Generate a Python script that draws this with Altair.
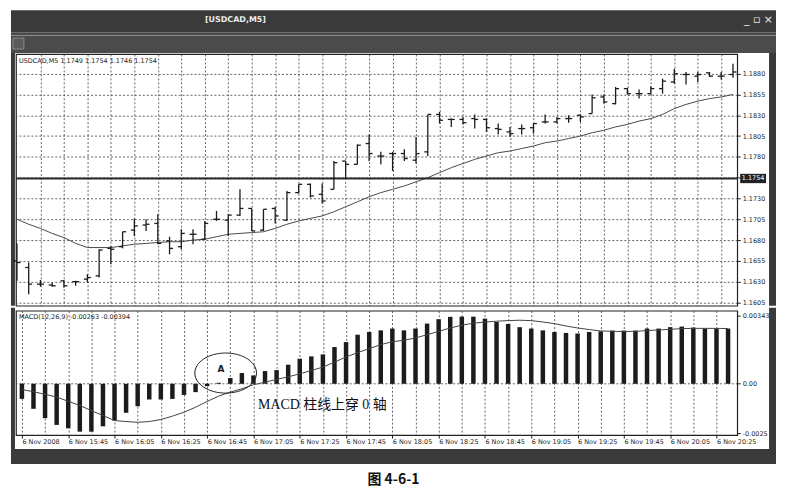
import json
import altair as alt
import pandas as pd

# ---------------- data ----------------
time_labels = ["6 Nov 2008", "6 Nov 15:45", "6 Nov 16:05", "6 Nov 16:25", "6 Nov 16:45",
               "6 Nov 17:05", "6 Nov 17:25", "6 Nov 17:45", "6 Nov 18:05", "6 Nov 18:25",
               "6 Nov 18:45", "6 Nov 19:05", "6 Nov 19:25", "6 Nov 19:45", "6 Nov 20:05",
               "6 Nov 20:25"]

opens = [1.1655, 1.1647, 1.1627, 1.1626, 1.1631, 1.1630, 1.1633, 1.1637, 1.1670, 1.1672,
         1.1692, 1.1698, 1.1700, 1.1679, 1.1672, 1.1687, 1.1681, 1.1705, 1.1704, 1.1710,
         1.1718, 1.1692, 1.1718, 1.1704, 1.1737, 1.1747, 1.1735, 1.1741, 1.1775, 1.1771,
         1.1796, 1.1781, 1.1784, 1.1784, 1.1776, 1.1786, 1.1831, 1.1825, 1.1825, 1.1826,
         1.1825, 1.1814, 1.1810, 1.1814, 1.1815, 1.1822, 1.1822, 1.1826, 1.1830, 1.1832,
         1.1852, 1.1844, 1.1862, 1.1856, 1.1856, 1.1862, 1.1870, 1.1879, 1.1877, 1.1881,
         1.1877, 1.1879]
highs = [1.1676, 1.1653, 1.1632, 1.1629, 1.1632, 1.1631, 1.1639, 1.1669, 1.1673, 1.1690,
         1.1706, 1.1705, 1.1711, 1.1684, 1.1693, 1.1693, 1.1703, 1.1715, 1.1711, 1.1741,
         1.1718, 1.1717, 1.1720, 1.1739, 1.1747, 1.1748, 1.1748, 1.1775, 1.1775, 1.1795,
         1.1807, 1.1786, 1.1786, 1.1789, 1.1804, 1.1831, 1.1834, 1.1826, 1.1828, 1.1831,
         1.1826, 1.1820, 1.1816, 1.1819, 1.1820, 1.1831, 1.1828, 1.1830, 1.1831, 1.1855,
         1.1855, 1.1864, 1.1863, 1.1861, 1.1865, 1.1874, 1.1886, 1.1882, 1.1882, 1.1882,
         1.1882, 1.1892]
lows = [1.1631, 1.1615, 1.1624, 1.1624, 1.1623, 1.1625, 1.1629, 1.1635, 1.1651, 1.1670,
        1.1685, 1.1691, 1.1675, 1.1663, 1.1669, 1.1675, 1.1680, 1.1703, 1.1685, 1.1709,
        1.1691, 1.1691, 1.1700, 1.1703, 1.1736, 1.1731, 1.1724, 1.1741, 1.1754, 1.1771,
        1.1775, 1.1771, 1.1763, 1.1775, 1.1772, 1.1781, 1.1820, 1.1816, 1.1819, 1.1814,
        1.1810, 1.1807, 1.1804, 1.1807, 1.1808, 1.1820, 1.1820, 1.1821, 1.1822, 1.1832,
        1.1844, 1.1843, 1.1855, 1.1850, 1.1855, 1.1856, 1.1868, 1.1867, 1.1870, 1.1876,
        1.1873, 1.1875]
closes = [1.1653, 1.1627, 1.1627, 1.1625, 1.1625, 1.1630, 1.1635, 1.1668, 1.1669, 1.1690,
          1.1697, 1.1699, 1.1676, 1.1670, 1.1688, 1.1687, 1.1700, 1.1705, 1.1710, 1.1718,
          1.1691, 1.1717, 1.1709, 1.1737, 1.1747, 1.1733, 1.1727, 1.1773, 1.1771, 1.1794,
          1.1784, 1.1781, 1.1784, 1.1778, 1.1784, 1.1831, 1.1824, 1.1825, 1.1821, 1.1825,
          1.1815, 1.1813, 1.1808, 1.1814, 1.1820, 1.1822, 1.1826, 1.1826, 1.1828, 1.1851,
          1.1846, 1.1862, 1.1856, 1.1856, 1.1862, 1.1871, 1.1880, 1.1879, 1.1879, 1.1877,
          1.1877, 1.1882]
moving_avg = [1.1705, 1.1699, 1.1694, 1.1688, 1.1683, 1.1676, 1.1671, 1.1671, 1.1671, 1.1673,
              1.1675, 1.1676, 1.1677, 1.1678, 1.1678, 1.1680, 1.1681, 1.1684, 1.1687, 1.1688,
              1.1689, 1.1690, 1.1694, 1.1699, 1.1703, 1.1706, 1.1709, 1.1714, 1.1720, 1.1726,
              1.1732, 1.1737, 1.1741, 1.1745, 1.1750, 1.1755, 1.1761, 1.1767, 1.1772, 1.1777,
              1.1781, 1.1785, 1.1787, 1.1790, 1.1793, 1.1797, 1.1799, 1.1802, 1.1805, 1.1809,
              1.1812, 1.1816, 1.1819, 1.1823, 1.1826, 1.1831, 1.1838, 1.1843, 1.1847, 1.1850,
              1.1852, 1.1855]
macd_hist = [-0.00076, -0.00126, -0.00173, -0.00207, -0.00224, -0.00241, -0.00241, -0.00214, -0.00185, -0.00146,
             -0.00113, -0.00079, -0.00079, -0.00076, -0.00056, -0.00042, -0.00012, 0.00005, 0.00029, 0.00054,
             0.00042, 0.00064, 0.00069, 0.00096, 0.00126, 0.00138, 0.00148, 0.00185, 0.00210, 0.00247,
             0.00261, 0.00269, 0.00278, 0.00269, 0.00278, 0.00303, 0.00325, 0.00337, 0.00338, 0.00338,
             0.00328, 0.00311, 0.00301, 0.00285, 0.00278, 0.00269, 0.00261, 0.00256, 0.00253, 0.00261,
             0.00264, 0.00268, 0.00268, 0.00268, 0.00278, 0.00278, 0.00285, 0.00288, 0.00283, 0.00278,
             0.00278, 0.00278]
macd_signal = [-0.00029, -0.00040, -0.00053, -0.00067, -0.00088, -0.00109, -0.00135, -0.00160, -0.00185, -0.00190,
               -0.00194, -0.00190, -0.00180, -0.00163, -0.00143, -0.00118, -0.00089, -0.00062, -0.00042, -0.00025,
               -0.00005, 0.00008, 0.00022, 0.00035, 0.00050, 0.00067, 0.00084, 0.00109, 0.00135, 0.00157,
               0.00177, 0.00197, 0.00212, 0.00219, 0.00231, 0.00247, 0.00264, 0.00281, 0.00295, 0.00305,
               0.00311, 0.00315, 0.00318, 0.00320, 0.00318, 0.00311, 0.00303, 0.00291, 0.00281, 0.00273,
               0.00266, 0.00264, 0.00263, 0.00264, 0.00268, 0.00271, 0.00274, 0.00278, 0.00279, 0.00279,
               0.00279, 0.00278]

price_ticks = [1.1605, 1.1630, 1.1655, 1.1680, 1.1705, 1.1730, 1.1755,
               1.1780, 1.1805, 1.1830, 1.1855, 1.1880]
current_price = 1.1754
header_quote = [1.1749, 1.1754, 1.1746, 1.1754]
macd_ticks = [-0.0025, 0.0, 0.00343]
macd_tick_labels = ["-0.0025", "0.00", "0.00343"]
macd_header = "MACD(12,26,9) -0.00263 -0.00394"
annotation = "MACD 柱线上穿 0 轴"
caption = "图 4-6-1"

# ---------------- chart ----------------
n = len(closes)
bars = pd.DataFrame({"i": list(range(n)), "o": opens, "h": highs, "l": lows, "c": closes,
                     "ma": moving_avg, "hist": macd_hist, "sig": macd_signal})

W, H1, H2 = 725, 253, 125
DARK = "#3a3a3a"
INK = "#1c1c1c"
GRID = "#3c3c3c"
FONT = "DejaVu Sans"

xs = alt.Scale(domain=[-0.085, 61.36], nice=False, zero=False)
ys_price = alt.Scale(domain=[1.16011, 1.19036], nice=False, zero=False)
ys_macd = alt.Scale(domain=[-0.00258, 0.00368], nice=False, zero=False)

grid_idx = list(range(2, n, 2))
label_idx = list(range(0, n, 2))

one = alt.Data(values=[{"k": 0}])


def deco_rect(x1, x2, y1, y2, color, **kw):
    return alt.Chart(one).mark_rect(color=color, **kw).encode(
        x=alt.value(x1), x2=alt.value(x2), y=alt.value(y1), y2=alt.value(y2))


def deco_text(txt, x, y, **kw):
    return alt.Chart(one).mark_text(**kw).encode(
        x=alt.value(x), y=alt.value(y), text=alt.value(txt))


x_axis_price = alt.Axis(values=grid_idx, tickCount=100, grid=True, gridDash=[2, 2], gridColor=GRID,
                        gridWidth=0.8, labels=False, ticks=False, domain=False, title=None)
y_axis_price = alt.Axis(orient="right", values=price_ticks, tickCount=100, grid=True, gridDash=[2, 2],
                        gridColor=GRID, gridWidth=0.8,
                        labelExpr="abs(datum.value - %r) < 0.0002 ? '' : format(datum.value, '.4f')" % current_price,
                        labelFontSize=6.5, labelFont=FONT, labelColor=INK, tickSize=3,
                        labelOverlap=False, labelFlush=False,
                        tickColor=INK, domain=False, title=None, labelPadding=2)

X_P = alt.X("i:Q", scale=xs, axis=x_axis_price)


def Y_P(f):
    return alt.Y(f, scale=ys_price, axis=y_axis_price)


base = alt.Chart(bars)
ma_line = base.mark_line(color="#4a4a4a", strokeWidth=1).encode(x=X_P, y=Y_P("ma:Q"))
hl = base.mark_rule(color=INK, strokeWidth=1.3).encode(x=X_P, y=Y_P("l:Q"), y2="h:Q")
op = base.mark_rule(color=INK, strokeWidth=1.3, xOffset=-3.5).encode(x=X_P, x2="i:Q", y=Y_P("o:Q"))
cl = base.mark_rule(color=INK, strokeWidth=1.3, x2Offset=3.5).encode(x=X_P, x2="i:Q", y=Y_P("c:Q"))
cur = alt.Chart(one).mark_rule(color="#2a2a2a", strokeWidth=2).encode(y=alt.datum(current_price))
BOX = "M-1,-0.36L1,-0.36L1,0.36L-1,0.36Z"
cur_box = alt.Chart(one).mark_point(shape=BOX, size=26 * 26, filled=True, color="#222", opacity=1).encode(
    x=alt.value(W + 16), y=alt.datum(current_price))
cur_txt = alt.Chart(one).mark_text(color="white", fontSize=6.5, font=FONT).encode(
    x=alt.value(W + 16), y=alt.datum(current_price), text=alt.value(f"{current_price:.4f}"))
header = deco_text("USDCAD,M5  " + " ".join(f"{v:.4f}" for v in header_quote), 3, 7,
                   align="left", baseline="middle", fontSize=6.5, font=FONT, color=INK)

frame_price = [
    deco_rect(-5, W + 39, -44, -22, DARK),
    deco_rect(-5, W + 39, -22, -1, "#4b4b4b"),
    deco_rect(-5, W + 39, -19, -18, "#8c8c8c"),
    deco_rect(-3, 8, -16, -5, "#5a5a5a", stroke="#8a8a8a", strokeWidth=1),
    deco_rect(-5, -1, -1, H1, DARK),
    deco_rect(W + 32, W + 39, -1, H1, DARK),
    deco_text("[USDCAD,M5]", 190, -34, align="left", baseline="middle", fontSize=8,
              fontWeight="bold", font=FONT, color="#eeeeee"),
    deco_text("_   ▫   ×", W + 36, -34, align="right", baseline="middle", fontSize=11,
              font=FONT, color="#eeeeee"),
]

price_panel = alt.layer(ma_line, *frame_price, cur, hl, op, cl, cur_box, cur_txt, header).properties(
    width=W, height=H1)

# MACD panel
x_label_expr = "datum.value % 4 === 0 ? " + json.dumps(time_labels) + "[datum.value / 4] : ''"
x_axis_macd = alt.Axis(values=label_idx, tickCount=100, grid=True, gridDash=[2, 2], gridColor=GRID,
                       gridWidth=0.8,
                       labelExpr=x_label_expr, labelAlign="left", labelFontSize=6.5, labelFont=FONT,
                       labelColor=INK, labelPadding=1, labelFlush=False, labelOverlap=False,
                       tickSize=3, tickColor=INK,
                       tickOpacity={"condition": {"test": "datum.value % 4 === 0", "value": 1}, "value": 0},
                       domain=False, title=None)
macd_label_expr = ("datum.value > 0.001 ? '%s' : datum.value < -0.001 ? '%s' : '%s'"
                   % (macd_tick_labels[2], macd_tick_labels[0], macd_tick_labels[1]))
y_axis_macd = alt.Axis(orient="right", values=macd_ticks, tickCount=100, labelExpr=macd_label_expr,
                       grid=True, gridDash=[2, 2], gridColor=GRID, gridWidth=0.8,
                       gridOpacity={"condition": {"test": "abs(datum.value) < 1e-9", "value": 1}, "value": 0},
                       labelFontSize=6.5, labelFont=FONT, labelColor=INK, tickSize=3, tickColor=INK,
                       labelOverlap=False, labelFlush=False,
                       domain=False, title=None, labelPadding=2)

X_M = alt.X("i:Q", scale=xs, axis=x_axis_macd)


def Y_M(f):
    return alt.Y(f, scale=ys_macd, axis=y_axis_macd)


hist = base.mark_bar(color=INK, width=4.5).encode(x=X_M, y=Y_M("hist:Q"), y2=alt.datum(0))
sig = base.mark_line(color="#444444", strokeWidth=1).encode(x=X_M, y=Y_M("sig:Q"))
ELLIPSE = "M-1,0A1,0.65 0 1,1 1,0A1,0.65 0 1,1 -1,0Z"
ell = alt.Chart(one).mark_point(shape=ELLIPSE, size=62 * 62, filled=False, color="#222",
                                strokeWidth=1, opacity=1).encode(x=alt.datum(17.6), y=alt.datum(0.00054))
a_txt = alt.Chart(one).mark_text(fontSize=9, fontWeight="bold", font=FONT, color=INK).encode(
    x=alt.datum(17.2), y=alt.datum(0.00076), text=alt.value("A"))
note = alt.Chart(one).mark_text(align="left", baseline="middle", fontSize=14,
                                font="Liberation Serif, Noto Sans CJK SC", color="#111").encode(
    x=alt.datum(20.4), y=alt.datum(-0.00108), text=alt.value(annotation))
macd_head = deco_text(macd_header, 3, 6, align="left", baseline="middle", fontSize=6.5,
                      font=FONT, color=INK)

frame_macd = [
    deco_rect(-5, -1, -3, H2 + 14, DARK),
    deco_rect(W + 32, W + 39, -3, H2 + 14, DARK),
    deco_rect(-5, W + 39, H2 + 14, H2 + 29, DARK),
]

macd_panel = alt.layer(hist, sig, *frame_macd, ell, a_txt, note, macd_head).properties(
    width=W, height=H2)

chart = alt.vconcat(price_panel, macd_panel, spacing=0).properties(
    title=alt.TitleParams(caption, orient="bottom", anchor="middle", fontSize=14,
                          fontWeight="bold", font="Noto Sans CJK SC", color="#111", offset=9),
    padding={"left": 2, "top": 0, "right": 0, "bottom": 4},
    background="white",
).configure_view(stroke="#222", strokeWidth=1.2).configure_concat(spacing=0).configure_axis(
    labelOverlap=False)

chart.save("out.html", embed_options={"renderer": "svg", "actions": False})
